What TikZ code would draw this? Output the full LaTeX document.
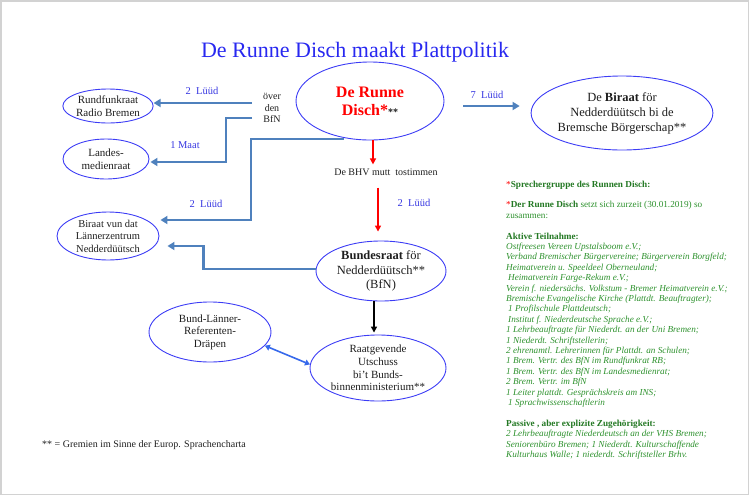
\documentclass[tikz,border=0pt]{standalone}
\usepackage{fontspec}
\setmainfont{Liberation Serif}
\usetikzlibrary{shapes.geometric,arrows.meta,calc}
\definecolor{ellblue}{RGB}{60,60,245}
\definecolor{titleblue}{RGB}{40,40,240}
\definecolor{lblblue}{RGB}{55,55,225}
\definecolor{connblue}{RGB}{79,129,189}
\definecolor{dblblue}{RGB}{55,105,235}
\definecolor{grn}{RGB}{45,145,45}
\definecolor{dgrn}{RGB}{35,120,35}
\definecolor{framegray}{RGB}{210,210,210}
\definecolor{txt}{RGB}{30,30,30}
\tikzset{
  ell/.style={ellipse, draw=ellblue, line width=0.9pt, inner sep=0pt, align=center, text=txt},
  conn/.style={draw=connblue, line width=2.2pt, -{Triangle[length=7pt,width=8pt]}},
  lbl/.style={text=lblblue, font=\fontsize{10.5}{12}\selectfont, inner sep=0pt},
  redarr/.style={draw=red, line width=1.4pt, -{Triangle[length=6pt,width=6pt]}},
  blkarr/.style={draw=black, line width=1.4pt, -{Triangle[length=6pt,width=6pt]}},
  dblarr/.style={draw=dblblue, line width=1.6pt, {Triangle[length=5pt,width=6pt]}-{Triangle[length=5pt,width=6pt]}},
  plain/.style={inner sep=0pt, align=center, text=txt}
}
\begin{document}
\begin{tikzpicture}[x=1pt,y=-1pt]
\useasboundingbox (0,0) rectangle (750,496);
\draw[framegray, line width=1.5pt] (0.75,0.75) rectangle (748.5,494.5);

% title
\node[inner sep=0pt, text=titleblue, font=\fontsize{22}{25}\selectfont] (title) at (355,52) {De Runne Disch maakt Plattpolitik};

% ellipses
\node[ell, minimum width=148pt, minimum height=78pt, font=\fontsize{16}{18}\selectfont\bfseries, text=red] (drd) at (370,101)
  {De Runne\\Disch*{\fontsize{10}{10}\selectfont\color{txt}**}};
\node[ell, minimum width=162pt, minimum height=74pt, font=\fontsize{12.5}{15}\selectfont] (bir) at (622,113)
  {\raisebox{4pt}{\begin{tabular}{@{}c@{}}De \textbf{Biraat} för\\Nedderdüütsch bi de\\Bremsche Börgerschap**\end{tabular}}};
\node[ell, minimum width=86pt, minimum height=34pt, font=\fontsize{11}{13}\selectfont] (rf) at (108,106)
  {Rundfunkraat\\Radio Bremen};
\node[ell, minimum width=86pt, minimum height=40pt, font=\fontsize{11}{12.5}\selectfont] (lm) at (106,159)
  {Landes-\\medienraat};
\node[ell, minimum width=102pt, minimum height=48pt, font=\fontsize{10.5}{12.5}\selectfont] (lz) at (108,236)
  {Biraat vun dat\\Lännerzentrum\\Nedderdüütsch};
\node[ell, minimum width=130pt, minimum height=60pt, font=\fontsize{12.5}{14.5}\selectfont] (bund) at (381,271)
  {\textbf{Bundesraat} för\\Nedderdüütsch**\\(BfN)};
\node[ell, minimum width=122pt, minimum height=60pt, font=\fontsize{11}{12.5}\selectfont] (dr) at (210,332)
  {Bund-Länner-\\Referenten-\\Dräpen};
\node[ell, minimum width=136pt, minimum height=66pt, font=\fontsize{11}{12.6}\selectfont] (raat) at (378,368)
  {Raatgevende\\Utschuss\\bi’t Bunds-\\binnenministerium**};

% small texts
\node[plain, font=\fontsize{10}{11.8}\selectfont] (bfn) at (272,108) {över\\den\\BfN};
\node[plain, font=\fontsize{10}{12}\selectfont] (bhv) at (386,172) {De BHV mutt\ \ tostimmen};
\node[plain, anchor=west, font=\fontsize{10}{12}\selectfont] (foot) at (42,445) {** = Gremien im Sinne der Europ. Sprachencharta};

% labels
\node[lbl] (l1) at (202,91) {2\ \ Lüüd};
\node[lbl] (l2) at (185,145) {1 Maat};
\node[lbl] (l3) at (206,204) {2\ \ Lüüd};
\node[lbl] (l4) at (487,95) {7\ \ Lüüd};
\node[lbl] (l5) at (414,203) {2\ \ Lüüd};

% connectors
\coordinate (s1) at (252,103);
\coordinate (s2) at (252,118);
\coordinate (s3) at (344,139);
\draw[conn] (s1) -- (s1 -| rf.east);
\draw[conn] (s2) -- ++(-26,0) |- ($(lm.east)+(1,3)$);
\draw[conn] (s3) -- ++(-93,0) |- ($(lz.east)+(1,-16)$);
\draw[conn] ($(bund.west)+(0,-2)$) -- ++(-112,0) |- ($(lz.east)+(8,10)$);
\draw[conn] ($(drd.east)+(19,5)$) -- ($(bir.west)+(-11,-7)$);
\draw[redarr, shorten >=4pt] ($(drd.south)+(3,0)$) coordinate (r1) -- (r1 |- bhv.north);
\draw[redarr, shorten >=9pt] ($(bhv.south)+(-8,12)$) coordinate (r2) -- (r2 |- bund.north);
\draw[blkarr, shorten >=2pt] ($(bund.south)+(-7,0)$) coordinate (b1) -- (b1 |- raat.north);
\draw[dblarr] (dr.-14) -- (raat.177);

% green text
\node[anchor=north west, inner sep=0pt, align=left, text=grn, font=\fontsize{9.2}{10.4}\selectfont] (members) at (506,180.5)
{{\color{red}*}{\color{dgrn}\textbf{Sprechergruppe des Runnen Disch:}}\\[10.4pt]
{\color{red}*}{\color{dgrn}\textbf{Der Runne Disch}} setzt sich zurzeit (30.01.2019) so\\
zusammen:\\[10.4pt]
{\color{dgrn}\textbf{Aktive Teilnahme:}}\\
\textit{Ostfreesen Vereen Upstalsboom e.V.;}\\
\textit{Verband Bremischer Bürgervereine; Bürgerverein Borgfeld;}\\
\textit{Heimatverein u. Speeldeel Oberneuland;}\\
\hspace*{2pt}\textit{Heimatverein Farge-Rekum e.V.;}\\
\textit{Verein f. niedersächs. Volkstum - Bremer Heimatverein e.V.;}\\
\textit{Bremische Evangelische Kirche (Plattdt. Beauftragter);}\\
\hspace*{2pt}\textit{1 Profilschule Plattdeutsch;}\\
\hspace*{2pt}\textit{Institut f. Niederdeutsche Sprache e.V.;}\\
\textit{1 Lehrbeauftragte für Niederdt. an der Uni Bremen;}\\
\textit{1 Niederdt. Schriftstellerin;}\\
\textit{2 ehrenamtl. Lehrerinnen für Plattdt. an Schulen;}\\
\textit{1 Brem. Vertr. des BfN im Rundfunkrat RB;}\\
\textit{1 Brem. Vertr. des BfN im Landesmedienrat;}\\
\textit{2 Brem. Vertr. im BfN}\\
\textit{1 Leiter plattdt. Gesprächskreis am INS;}\\
\hspace*{2pt}\textit{1 Sprachwissenschaftlerin}\\[10.4pt]
{\color{dgrn}\textbf{Passive , aber explizite Zugehörigkeit:}}\\
\textit{2 Lehrbeauftragte Niederdeutsch an der VHS Bremen;}\\
\textit{Seniorenbüro Bremen; 1 Niederdt. Kulturschaffende}\\
\textit{Kulturhaus Walle; 1 niederdt. Schriftsteller Brhv.}};
\end{tikzpicture}
\end{document}
